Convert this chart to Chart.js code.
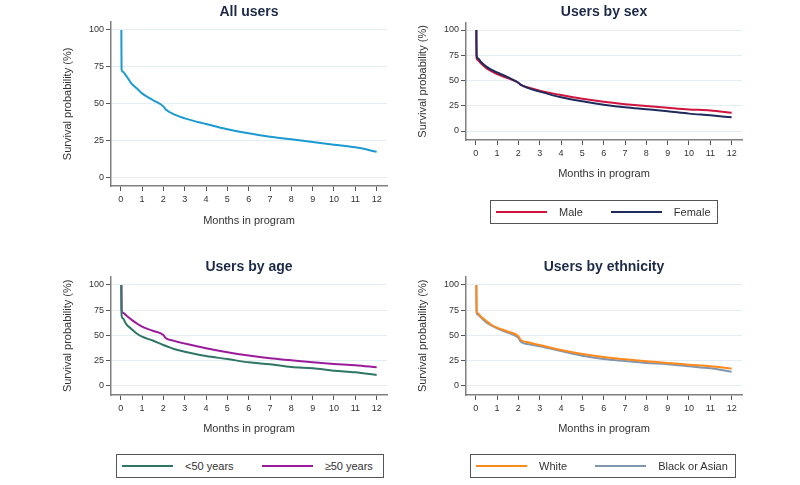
<!DOCTYPE html>
<html>
<head>
<meta charset="utf-8">
<script src="https://cdn.jsdelivr.net/npm/chart.js@4"></script>
<style>
  body { margin: 0; width: 800px; height: 485px; overflow: hidden; background: #fff; position: relative;
         font-family: "Liberation Sans", Arial, sans-serif; }
  .panel { position: absolute; }
  .legend { position: absolute; box-sizing: border-box; height: 24px; border: 1px solid #555;
            display: flex; align-items: center; padding-left: 5px; font-size: 11px; color: #333; }
  .legend .line { display: inline-block; width: 51px; height: 2px; margin-right: 12px; vertical-align: middle; }
  .legend .item { display: flex; align-items: center; white-space: nowrap; }
  .legend .item + .item { margin-left: 28px; }
</style>
</head>
<body>
<div class="panel" style="left:0;top:0;width:498px;height:245px"><canvas id="p1"></canvas></div>
<div class="panel" style="left:408px;top:0;width:392px;height:190px"><canvas id="p2"></canvas></div>
<div class="panel" style="left:0;top:245px;width:498px;height:200px"><canvas id="p3"></canvas></div>
<div class="panel" style="left:408px;top:245px;width:392px;height:200px"><canvas id="p4"></canvas></div>
<div class="legend" id="leg2" style="left:490px;top:200px;width:228px"></div>
<div class="legend" id="leg3" style="left:116px;top:454px;width:268px"></div>
<div class="legend" id="leg4" style="left:470px;top:454px;width:266px"></div>

<script>
// months in program (x) shared by every curve
const months = [0.03, 0.04, 0.1, 0.25, 0.5, 0.75, 1, 1.5, 2, 2.1, 2.5, 3, 4, 5, 6, 7, 8, 9, 10, 11, 12];

// survival probability (%)
const allUsers   = [100, 73.4, 71.8, 69.2, 64.0, 60.6, 57.2, 52.7, 48.4, 46.5, 43.0, 40.3, 36.5, 32.9, 30.2, 27.9, 26.1, 24.3, 22.5, 20.7, 17.8];
const male       = [100, 72.5, 70.0, 66.7, 62.3, 59.0, 56.3, 52.3, 47.8, 45.9, 42.8, 40.0, 35.6, 31.9, 28.9, 26.6, 24.7, 23.0, 21.4, 20.4, 18.1];
const female     = [100, 75.0, 72.0, 68.3, 63.7, 60.4, 57.9, 53.3, 47.8, 45.9, 42.2, 39.0, 33.4, 29.4, 26.1, 23.4, 21.5, 19.5, 17.2, 15.5, 13.5];
const under50    = [100, 70.0, 67.0, 61.5, 56.5, 52.0, 48.8, 45.0, 40.6, 39.8, 36.6, 34.0, 29.7, 26.7, 23.4, 21.5, 18.8, 17.5, 15.2, 13.5, 10.9];
const over50     = [100, 75.0, 72.5, 70.0, 65.7, 62.0, 58.7, 54.7, 50.4, 47.6, 44.7, 42.0, 37.4, 33.4, 30.1, 27.4, 25.4, 23.4, 21.8, 20.5, 18.5];
const white      = [100, 74.6, 72.0, 68.6, 64.4, 60.4, 57.8, 54.0, 49.4, 45.9, 43.0, 40.6, 35.6, 31.7, 28.7, 26.4, 24.4, 22.8, 21.1, 19.5, 17.2];
const blackAsian = [100, 72.6, 70.5, 67.7, 63.0, 59.7, 57.1, 52.8, 47.6, 44.1, 41.3, 39.3, 34.7, 30.0, 26.7, 24.7, 22.8, 21.5, 19.5, 17.5, 14.2];

const monthTicks = [0, 1, 2, 3, 4, 5, 6, 7, 8, 9, 10, 11, 12];
const pctTicks = [0, 25, 50, 75, 100];

const panels = [
  { id: 'p1', title: 'All users', series: [{ label: 'All users', values: allUsers, color: '#1b9ad0' }],
    yMin: -5.41, yMax: 105.54, yW: 111, padX: 111, yTitlePad: 61.7, xH: 59, xTitlePad: 17.4, titlePad: { top: 4, bottom: 1 } },
  { id: 'p2', title: 'Users by sex', legend: 'leg2',
    series: [{ label: 'Male', values: male, color: '#cf1440', order: 1 }, { label: 'Female', values: female, color: '#1e2b5c', order: 0 }],
    yMin: -8.91, yMax: 107.13, yW: 58, padX: 58, yTitlePad: 8.4, xH: 50, xTitlePad: 9.4, titlePad: { top: 4, bottom: 2 } },
  { id: 'p3', title: 'Users by age', legend: 'leg3',
    series: [{ label: '<50 years', values: under50, color: '#2e7566' }, { label: '\u226550 years', values: over50, color: '#9a1c9c' }],
    yMin: -8.91, yMax: 108.2, yW: 111, padX: 111, yTitlePad: 61.7, xH: 50, xTitlePad: 9.4, titlePad: { top: 13.6, bottom: 1.3 } },
  { id: 'p4', title: 'Users by ethnicity', legend: 'leg4',
    series: [{ label: 'White', values: white, color: '#ff8a1c', order: 0 }, { label: 'Black or Asian', values: blackAsian, color: '#8196ad', order: 1 }],
    yMin: -8.91, yMax: 108.2, yW: 58, padX: 58, yTitlePad: 8.4, xH: 50, xTitlePad: 9.4, titlePad: { top: 13.6, bottom: 1.3 } }
];

const textColor = '#333';
const tickFont = { family: '"Liberation Sans", Arial, sans-serif', size: 9 };
const axisFont = { family: '"Liberation Sans", Arial, sans-serif', size: 11 };

panels.forEach(p => {
  new Chart(document.getElementById(p.id), {
    type: 'line',
    data: {
      datasets: p.series.map(s => ({
        label: s.label,
        data: months.map((m, i) => ({ x: m, y: s.values[i] })),
        borderColor: s.color,
        backgroundColor: s.color,
        borderWidth: 2,
        pointRadius: 0,
        cubicInterpolationMode: 'monotone',
        order: s.order || 0
      }))
    },
    options: {
      responsive: true,
      maintainAspectRatio: false,
      animation: false,
      layout: { padding: { left: 0, right: p.padX, top: 0, bottom: 0 } },
      plugins: {
        legend: { display: false },
        tooltip: { enabled: false },
        // fullSize false keeps the title centred over the plot area
        title: { display: true, fullSize: false, text: p.title, color: '#1c2a48', padding: p.titlePad,
                 font: { family: '"Liberation Sans", Arial, sans-serif', size: 14, weight: 'bold' } }
      },
      scales: {
        x: {
          type: 'linear', min: -0.455, max: 12.485,
          afterBuildTicks: s => { s.ticks = monthTicks.map(v => ({ value: v })); },
          afterFit: s => { s.height = p.xH; },
          ticks: { font: tickFont, color: textColor, padding: 3, autoSkip: false, maxRotation: 0 },
          grid: { drawOnChartArea: false, drawTicks: true, tickLength: 5, tickColor: '#555' },
          border: { color: '#808080', width: 1.5 },
          title: { display: true, text: 'Months in program', font: axisFont, color: textColor, padding: { top: 0, bottom: p.xTitlePad } }
        },
        y: {
          min: p.yMin, max: p.yMax,
          afterBuildTicks: s => { s.ticks = pctTicks.map(v => ({ value: v })); },
          afterFit: s => { s.width = p.yW; },
          ticks: { font: tickFont, color: textColor, padding: 2 },
          grid: { color: '#e3eef3', lineWidth: 1, drawTicks: true, tickLength: 5, tickColor: '#555' },
          border: { color: '#808080', width: 1.5 },
          title: { display: true, text: 'Survival probability (%)', font: axisFont, color: textColor, padding: { top: p.yTitlePad, bottom: 0 } }
        }
      }
    }
  });

  // html legend with a framed box, built from the same series
  if (p.legend) {
    const box = document.getElementById(p.legend);
    p.series.forEach(s => {
      const item = document.createElement('span');
      item.className = 'item';
      item.innerHTML = `<span class="line" style="background:${s.color}"></span>`;
      item.appendChild(document.createTextNode(s.label));
      box.appendChild(item);
    });
  }
});
</script>
</body>
</html>
